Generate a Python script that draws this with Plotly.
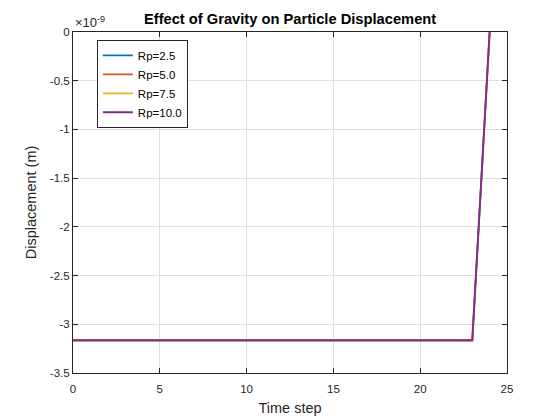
import numpy as np
import plotly.graph_objects as go

# time steps and particle radius cases
time_step = list(range(0, 25))
rp_labels = ["Rp=2.5", "Rp=5.0", "Rp=7.5", "Rp=10.0"]

# displacement (m) for each Rp (all curves overlap)
disp_rp25 = [-3.165e-9] * 24 + [0.0]
disp_rp50 = [-3.165e-9] * 24 + [0.0]
disp_rp75 = [-3.165e-9] * 24 + [0.0]
disp_rp100 = [-3.165e-9] * 24 + [0.0]

y_ticks = [0, -0.5, -1, -1.5, -2, -2.5, -3, -3.5]
x_ticks = [0, 5, 10, 15, 20, 25]

colors = ["#0072BD", "#D95319", "#EDB120", "#7E2F8E"]
widths = [1.6, 1.6, 1.6, 2]
series = [disp_rp25, disp_rp50, disp_rp75, disp_rp100]

fig = go.Figure()
for name, vals, col, w in zip(rp_labels, series, colors, widths):
    fig.add_trace(go.Scatter(x=time_step, y=vals, mode="lines", name=name,
                             line=dict(color=col, width=w)))

axis_common = dict(
    showline=True, linecolor="#262626", linewidth=1, mirror="ticks",
    ticks="inside", ticklen=5, tickcolor="#262626",
    showgrid=True, gridcolor="#DFDFDF", gridwidth=1, zeroline=False,
    tickfont=dict(size=11.5, color="#262626"), automargin=False,
)

fig.update_xaxes(range=[0, 25], tickvals=x_ticks,
                 ticktext=[str(t) for t in x_ticks], ticklabelstandoff=5,
                 title=dict(text="Time step", font=dict(size=14.5, color="#262626"), standoff=9),
                 **axis_common)
fig.update_yaxes(range=[-3.5e-9, 0], tickvals=[t * 1e-9 for t in y_ticks],
                 ticktext=[("%g" % t) for t in y_ticks],
                 title=dict(text="Displacement (m)", font=dict(size=14.5, color="#262626"), standoff=9),
                 **axis_common)

# page body has an 8px margin, so the figure is sized to fit the window
fig.update_layout(
    width=552, height=412,
    margin=dict(l=65, r=53, t=24, b=47),
    paper_bgcolor="white", plot_bgcolor="white",
    font=dict(family="Liberation Sans, Arial, sans-serif", color="#262626"),
    title=dict(text="<b>Effect of Gravity on Particle Displacement</b>",
               x=0.511, xanchor="center", y=0.973, yanchor="middle",
               font=dict(size=14.7, color="black")),
    legend=dict(x=0.055, y=0.977, xanchor="left", yanchor="top",
                bgcolor="white", bordercolor="#262626", borderwidth=1,
                font=dict(size=11.5, color="black"), tracegroupgap=0),
    showlegend=True,
    annotations=[dict(text="×10<sup>-9</sup>", xref="paper", yref="paper",
                      x=0.0, y=1.0, xanchor="left", yanchor="bottom",
                      showarrow=False, font=dict(size=13, color="#262626"))],
)

fig.write_html("out.html")
